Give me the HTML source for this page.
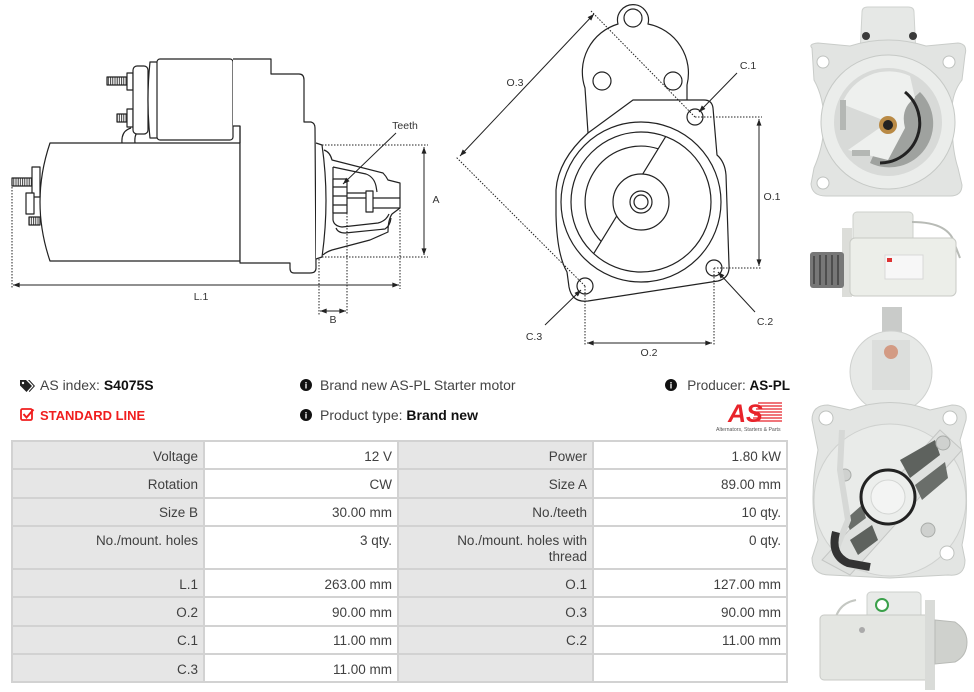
<!DOCTYPE html>
<html><head><meta charset="utf-8"><style>
html,body{margin:0;padding:0;background:#fff;}
body{width:974px;height:692px;position:relative;overflow:hidden;font-family:"Liberation Sans",sans-serif;}
svg{position:absolute;left:0;top:0;}
.tbl{position:absolute;left:11px;top:440px;width:777px;display:grid;grid-template-columns:190px 192px 193px 192px;grid-template-rows:26.3px 26.3px 26.3px 41.3px 26.3px 26.3px 26.3px 26.3px;gap:2px;padding:2px;background:#d2d2d2;box-sizing:border-box;}
.tbl div{font-size:13.5px;color:#404040;text-align:right;padding:6.5px 5px 0 0;line-height:16px;box-sizing:border-box;white-space:nowrap;}
.tbl .l{background:#e6e6e6}
.tbl .v{background:#fff}
</style></head><body>
<svg width="974" height="692" viewBox="0 0 974 692" xmlns="http://www.w3.org/2000/svg">
<defs>
<marker id="ar" viewBox="0 0 8 6" refX="8" refY="3" markerWidth="7" markerHeight="5" markerUnits="userSpaceOnUse" orient="auto-start-reverse"><path d="M0,0 L8,3 L0,6 Z" fill="#222"/></marker>
<pattern id="thr" width="2.2" height="10" patternUnits="userSpaceOnUse"><rect width="2.2" height="10" fill="#fff"/><line x1="0.6" y1="0" x2="0.6" y2="10" stroke="#222" stroke-width="0.9"/></pattern>
</defs>

<!-- LEFT DRAWING -->
<g fill="none" stroke="#222" stroke-width="1.2" stroke-linejoin="round">
  <path d="M50,143 L240,143 L240,261 L50,261 Q30,202 50,143 Z" fill="#fff"/>
  <rect x="12" y="178" width="20" height="8" fill="url(#thr)"/>
  <rect x="32" y="167" width="8" height="30" fill="#fff"/>
  <rect x="26" y="193" width="8" height="21" fill="#fff"/>
  <rect x="29" y="217" width="11" height="8" fill="url(#thr)"/>
  <rect x="107" y="77" width="20" height="8" fill="url(#thr)"/>
  <rect x="127" y="73" width="6" height="17" fill="#fff"/>
  <rect x="117" y="114" width="10" height="8" fill="url(#thr)"/>
  <rect x="127" y="109" width="6" height="18" fill="#fff"/>
  <path d="M122,143 Q121,131 131,128 M135,143 Q134,133 140,130"/>
  <rect x="133" y="66" width="15" height="68" rx="4" fill="#fff"/>
  <path d="M157,62 L150,62 Q146,100 150,138 L157,138" fill="#fff"/>
  <rect x="157" y="59" width="76" height="81" rx="3" fill="#fff"/>
  <path d="M233,59 L271,59 L271,74 L299,74 Q304,74 304,80 L304,122 L311,122 Q315,123 315,128 L316,268 Q316,273 310,273 L294,273 Q290,273 290,268 L290,263 L240,263 L240,126 L233,126" fill="#fff"/>
  <line x1="240" y1="126" x2="240" y2="143"/>
  <path d="M316,143 L322,145 Q330,200 322,257 L316,259" fill="#fff"/>
  <path d="M324,150 Q330,152 332,160 L383,173 Q386,176 388,180 L400,183 L400,208 L392,214 Q388,220 388,232 L370,240 L332,250 Q326,252 323,255"/>
  <path d="M333,167 L333,220 Q334,226 342,227 L378,223 Q386,221 389,214"/>
  <path d="M333,167 L366,174 Q374,177 376,186 L377,192"/>
  <path d="M336,228 Q338,233 345,233 L385,229 Q390,226 391,218"/>
  <rect x="333" y="179" width="14" height="34" fill="#fff"/>
  <path d="M333,187 L347,187 M333,196 L347,196 M333,205 L347,205"/>
  <path d="M347,193 L366,193 M347,198 L366,198"/>
  <rect x="366" y="191" width="7" height="21" fill="#fff"/>
  <path d="M373,198 L400,198 M373,208 L400,208"/>
</g>
<g fill="none" stroke="#222" stroke-width="1" stroke-dasharray="1.5 1.5">
  <path d="M322,145 L428,145 M322,257 L428,257"/>
  <path d="M12,187 L12,289 M400,210 L400,289"/>
  <path d="M319,259 L319,315 M347,213 L347,315"/>
</g>
<g fill="none" stroke="#222" stroke-width="1">
  <path d="M424,147 L424,255" marker-start="url(#ar)" marker-end="url(#ar)"/>
  <path d="M13,285 L399,285" marker-start="url(#ar)" marker-end="url(#ar)"/>
  <path d="M320,311 L346,311" marker-start="url(#ar)" marker-end="url(#ar)"/>
  <path d="M396,133 L343,184" marker-end="url(#ar)"/>
</g>

<!-- CENTER DRAWING -->
<g fill="none" stroke="#222" stroke-width="1.2" stroke-linejoin="round">
  <path d="M588,133 L585,88 A50,50 0 0 1 618,24 A15.5,15.5 0 1 1 648,24 A50,50 0 0 1 687,85 L687,100"/>
  <circle cx="633" cy="18" r="9"/>
  <circle cx="602" cy="81" r="9"/>
  <circle cx="673" cy="81" r="9"/>
  <path d="M633,100 L704,100 Q712,100 713,108 L717,155 Q725,162 726,175 L729,265 Q730,278 718,281 L588,301 Q572,303 569,287 L567,272 Q557,255 556,215 L556,190 Q558,160 588,133 Z" fill="#fff"/>
  <circle cx="641" cy="202" r="80"/>
  <circle cx="641" cy="202" r="70"/>
  <path d="M658.2,148.8 A56,56 0 0 0 601.2,241.4"/>
  <path d="M665.7,136.6 L642.7,174.1 M616.7,216.1 L593.7,253.6"/>
  <circle cx="641" cy="202" r="28"/>
  <circle cx="641" cy="202" r="11"/>
  <circle cx="641" cy="202" r="7"/>
  <circle cx="695" cy="117" r="8" fill="#fff"/>
  <circle cx="714" cy="268" r="8" fill="#fff"/>
  <circle cx="585" cy="286" r="8" fill="#fff"/>
</g>
<g fill="none" stroke="#222" stroke-width="1" stroke-dasharray="1.5 1.5">
  <path d="M695,117 L762,117 M714,268 L762,268"/>
  <path d="M585,286 L585,346 M714,268 L714,346"/>
  <path d="M695,117 L591,11 M585,286 L456,157"/>
</g>
<g fill="none" stroke="#222" stroke-width="1">
  <path d="M759,119 L759,266" marker-start="url(#ar)" marker-end="url(#ar)"/>
  <path d="M587,343 L712,343" marker-start="url(#ar)" marker-end="url(#ar)"/>
  <path d="M594,14 L460,156" marker-start="url(#ar)" marker-end="url(#ar)"/>
  <path d="M737,73 L699,112" marker-end="url(#ar)"/>
  <path d="M755,312 L718,272" marker-end="url(#ar)"/>
  <path d="M545,325 L581,290" marker-end="url(#ar)"/>
</g>
<g font-family="Liberation Sans, sans-serif" font-size="10.5" fill="#333">
  <text x="405" y="129" text-anchor="middle">Teeth</text>
  <text x="436" y="203" text-anchor="middle">A</text>
  <text x="201" y="300" text-anchor="middle">L.1</text>
  <text x="333" y="323" text-anchor="middle">B</text>
  <text x="515" y="86" text-anchor="middle">O.3</text>
  <text x="748" y="69" text-anchor="middle">C.1</text>
  <text x="772" y="200" text-anchor="middle">O.1</text>
  <text x="765" y="325" text-anchor="middle">C.2</text>
  <text x="534" y="340" text-anchor="middle">C.3</text>
  <text x="649" y="356" text-anchor="middle">O.2</text>
</g>

<!-- INFO ROW -->
<g font-family="Liberation Sans, sans-serif" font-size="14">
  <path d="M20,380 L26,380 L32,386 L26.5,392 L20,385.5 Z" fill="#222"/>
  <circle cx="23" cy="383" r="1.2" fill="#fff"/>
  <path d="M28,380 L29.5,380 L35,386 L29.5,392 L28.8,391.3 L33.6,386 Z" fill="#222"/>
  <text x="40" y="390" fill="#444">AS index: <tspan font-weight="bold" fill="#111">S4075S</tspan></text>
  <rect x="21" y="409" width="11" height="11" rx="1.5" fill="none" stroke="#f01e1e" stroke-width="1.8"/>
  <path d="M23.5,414 L26.5,417.5 L33.5,409.5" fill="none" stroke="#f01e1e" stroke-width="2"/>
  <text x="40" y="420" fill="#f01e1e" font-weight="bold" font-size="13">STANDARD LINE</text>

  <circle cx="306" cy="385" r="6" fill="#111"/>
  <text x="306" y="388.5" fill="#fff" font-size="9" font-weight="bold" text-anchor="middle">i</text>
  <text x="320" y="390" fill="#444">Brand new AS-PL Starter motor</text>
  <circle cx="306" cy="415" r="6" fill="#111"/>
  <text x="306" y="418.5" fill="#fff" font-size="9" font-weight="bold" text-anchor="middle">i</text>
  <text x="320" y="420" fill="#444">Product type: <tspan font-weight="bold" fill="#111">Brand new</tspan></text>

  <circle cx="671" cy="385" r="6" fill="#111"/>
  <text x="671" y="388.5" fill="#fff" font-size="9" font-weight="bold" text-anchor="middle">i</text>
  <text x="790" y="390" fill="#444" font-size="13.5" text-anchor="end">Producer: <tspan font-weight="bold" fill="#111">AS-PL</tspan></text>

  <g stroke="#e8232a" stroke-width="1.3">
    <path d="M758,403 L782,403 M757,406 L782,406 M756,409 L782,409 M755,412 L782,412 M754,415 L782,415 M753,418 L782,418 M752,421 L782,421"/>
  </g>
  <text x="728" y="422" fill="#e8232a" font-size="25" font-weight="bold" font-style="italic">AS</text>
  <text x="716" y="431" fill="#555" font-size="5.2">Alternators, Starters &amp; Parts</text>
</g>

<!-- PHOTOS -->
<g>
  <path d="M862,12 Q862,7 868,7 L908,7 Q914,7 914,12 L916,55 L860,55 Z" fill="#e6e8e6" stroke="#cfd2cf"/>
  <circle cx="866" cy="36" r="4" fill="#3a3a3a"/><circle cx="913" cy="36" r="4" fill="#3a3a3a"/>
  <path d="M812,48 Q808,44 818,43 L850,46 Q888,34 926,46 L958,43 Q968,44 965,55 L962,80 Q950,95 952,120 Q952,150 958,168 L962,185 Q962,196 950,196 L826,196 Q812,196 811,184 L814,168 Q824,145 824,122 Q824,98 814,80 Z" fill="#e2e4e2" stroke="#c9ccc9"/>
  <circle cx="823" cy="62" r="6" fill="#fff" stroke="#bfc2bf"/>
  <circle cx="949" cy="62" r="6" fill="#fff" stroke="#bfc2bf"/>
  <circle cx="823" cy="183" r="6" fill="#fff" stroke="#bfc2bf"/>
  <circle cx="888" cy="122" r="67" fill="#ebedeb" stroke="#c6c9c6"/>
  <circle cx="888" cy="122" r="54" fill="#d8dad8"/>
  <path d="M888,122 L920,92 A44,44 0 0 1 870,163 Z" fill="#9fa29f"/>
  <path d="M888,122 L842,104 A50,50 0 0 1 910,76 L915,98 Q900,108 905,128 L888,160 L848,150 Z" fill="#eef0ee"/>
  <path d="M905,92 A40,40 0 0 1 880,163" stroke="#222" stroke-width="3" fill="none"/>
  <rect x="840" y="100" width="6" height="30" fill="#b4b7b4"/>
  <rect x="852" y="150" width="18" height="6" fill="#b4b7b4"/>
  <circle cx="888" cy="125" r="9" fill="#b98a45"/><circle cx="888" cy="125" r="5" fill="#222"/>
</g>
<g>
  <rect x="853" y="212" width="60" height="30" rx="4" fill="#e6e8e4" stroke="#cdd0cb"/>
  <path d="M912,222 Q950,222 955,245 L960,258" stroke="#b8bbb6" stroke-width="2" fill="none"/>
  <rect x="842" y="228" width="10" height="69" fill="#dcddd9"/>
  <rect x="850" y="238" width="106" height="58" rx="5" fill="#eceee9" stroke="#c8cac5"/>
  <rect x="885" y="255" width="38" height="24" fill="#f7f7f7" stroke="#d8d8d8"/>
  <rect x="887" y="258" width="5" height="4" fill="#d33"/>
  <rect x="810" y="252" width="34" height="36" rx="3" fill="#777"/>
  <path d="M814,256 L814,284 M820,255 L820,285 M826,255 L826,285 M832,255 L832,285 M838,255 L838,285" stroke="#4e4e4e" stroke-width="2"/>
</g>
<g>
  <rect x="882" y="307" width="20" height="25" fill="#c9cbc9"/>
  <circle cx="891" cy="372" r="41" fill="#e7e9e7" stroke="#cfd1cf"/>
  <rect x="872" y="340" width="38" height="50" fill="#dcdedc"/>
  <circle cx="891" cy="352" r="7" fill="#d39b84"/>
  <path d="M812,420 Q812,405 828,405 L850,410 Q890,395 930,410 L952,405 Q968,405 966,420 L960,440 Q972,500 962,545 L965,560 Q965,577 948,575 L890,578 L830,575 Q812,575 812,558 L818,540 Q808,500 818,450 Z" fill="#e3e5e3" stroke="#c8cbc8"/>
  <circle cx="890" cy="500" r="76" fill="#e9ebe9" stroke="#cfd1cf"/>
  <circle cx="826" cy="418" r="7" fill="#fff" stroke="#bfc2bf"/>
  <circle cx="950" cy="418" r="7" fill="#fff" stroke="#bfc2bf"/>
  <circle cx="947" cy="553" r="7" fill="#fff" stroke="#bfc2bf"/>
  <path d="M940,430 L962,450 L850,575 L822,560 Z" fill="#dfe1df" stroke="#c4c6c4"/>
  <path d="M900,460 L935,440 L940,455 L910,478 Z" fill="#5e625e"/>
  <path d="M915,485 L945,462 L948,478 L922,500 Z" fill="#6a6e6a"/>
  <path d="M850,540 L872,525 L878,540 L858,555 Z" fill="#5e625e"/>
  <path d="M845,520 L862,505 L866,518 L850,530 Z" fill="#6a6e6a"/>
  <circle cx="888" cy="497" r="27" fill="#eceeec" stroke="#222" stroke-width="3"/>
  <circle cx="888" cy="497" r="17" fill="#f3f4f3" stroke="#d3d5d3"/>
  <circle cx="943" cy="443" r="7" fill="#cfd1cf" stroke="#a9aca9"/>
  <circle cx="928" cy="530" r="7" fill="#cfd1cf" stroke="#a9aca9"/>
  <circle cx="845" cy="475" r="6" fill="#cfd1cf" stroke="#a9aca9"/>
  <path d="M842,430 L840,470 L848,520 L838,545 Q832,560 850,565 L868,570" stroke="#d6d8d6" stroke-width="6" fill="none"/>
  <path d="M836,532 Q830,555 848,563 L870,567" stroke="#333" stroke-width="8" fill="none"/>
</g>
<g>
  <path d="M856,600 Q830,605 835,640" stroke="#c4c7c2" stroke-width="2" fill="none"/>
  <rect x="867" y="592" width="54" height="32" rx="4" fill="#e8eae8" stroke="#cdd0cd"/>
  <circle cx="882" cy="605" r="6" fill="#fff" stroke="#3aa04a" stroke-width="2"/>
  <rect x="820" y="615" width="110" height="65" rx="4" fill="#e4e6e2" stroke="#c8cac6"/>
  <rect x="925" y="600" width="10" height="90" fill="#d9dbd8"/>
  <path d="M935,620 L955,622 Q967,630 967,642 Q967,656 955,662 L935,664 Z" fill="#cfd1cd" stroke="#b8bab6"/>
  <circle cx="862" cy="630" r="3" fill="#aaa"/>
</g>
</svg>

<div class="tbl">
  <div class="l">Voltage</div><div class="v">12 V</div><div class="l">Power</div><div class="v">1.80 kW</div>
  <div class="l">Rotation</div><div class="v">CW</div><div class="l">Size A</div><div class="v">89.00 mm</div>
  <div class="l">Size B</div><div class="v">30.00 mm</div><div class="l">No./teeth</div><div class="v">10 qty.</div>
  <div class="l">No./mount. holes</div><div class="v">3 qty.</div><div class="l">No./mount. holes with<br>thread</div><div class="v">0 qty.</div>
  <div class="l">L.1</div><div class="v">263.00 mm</div><div class="l">O.1</div><div class="v">127.00 mm</div>
  <div class="l">O.2</div><div class="v">90.00 mm</div><div class="l">O.3</div><div class="v">90.00 mm</div>
  <div class="l">C.1</div><div class="v">11.00 mm</div><div class="l">C.2</div><div class="v">11.00 mm</div>
  <div class="l">C.3</div><div class="v">11.00 mm</div><div class="l"></div><div class="v"></div>
</div>
</body></html>
